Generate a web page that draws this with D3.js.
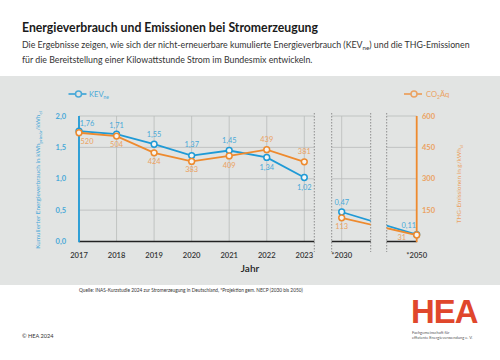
<!DOCTYPE html>
<html><head><meta charset="utf-8">
<script src="https://cdn.jsdelivr.net/npm/d3@7/dist/d3.min.js"></script>
<style>
html,body{margin:0;padding:0;background:#fff;}
svg{display:block;font-family:Lato,"Open Sans",sans-serif;}
</style></head>
<body>
<svg id="c" width="500" height="360"></svg>
<script>
// ---- data ----
const yearLabels = ["2017","2018","2019","2020","2021","2022","2023","*2030","*2050"];
const years = [2017,2018,2019,2020,2021,2022,2023,2030,2050];
const kev = [1.76,1.71,1.55,1.37,1.45,1.34,1.02,0.47,0.11];
const co2 = [520,504,424,383,409,439,381,113,31];
const leftTicks = [0,0.5,1.0,1.5,2.0];
const rightTicks = [150,300,450,600];
const gridYears = [2017,2018,2019,2020,2021,2022,2023,2030];

// label placement (style only)
const kevOff = [[8,-8],[0,-9],[0,-10],[0,-11],[0,-10],[0,10],[0,10],[0,-10],[-8,-9]];
const co2Off = [[8,9],[0,8],[0,9],[0,8],[0,9],[0,-10],[0,-10],[0,9],[-15,2]];

const BLUE="#1f9ad6", ORANGE="#ee8a2e", BLUEL="#4aa9d8", ORANGEL="#eba262", GRID="#b9bbba", PANEL="#e2e4e3";
const svg = d3.select("#c");
const fmt = d3.formatLocale({decimal:",",thousands:".",grouping:[3],currency:["","€"]});
const f2 = fmt.format(".2f"), f1 = fmt.format(".1f");

function fit(sel, w){ const n=sel.node(); const bw=n.getComputedTextLength(); const fs=parseFloat(sel.attr("font-size")); sel.attr("font-size", fs*w/bw); }

// header
const title = svg.append("text").attr("x",22).attr("y",31.5).attr("font-size",12.5).attr("font-weight",700).attr("fill","#1a1a1a")
  .text("Energieverbrauch und Emissionen bei Stromerzeugung");
fit(title,296);
const s1 = svg.append("text").attr("x",22).attr("y",48).attr("font-size",8.5).attr("fill","#333");
s1.append("tspan").text("Die Ergebnisse zeigen, wie sich der nicht-erneuerbare kumulierte Energieverbrauch (KEV");
s1.append("tspan").attr("dy",2).attr("font-size","0.7em").text("ne");
s1.append("tspan").attr("dy",-2).text(") und die THG-Emissionen");
fit(s1,448);
const fs1 = parseFloat(s1.attr("font-size"));
svg.append("text").attr("x",22).attr("y",63).attr("font-size",fs1).attr("fill","#333")
  .text("für die Bereitstellung einer Kilowattstunde Strom im Bundesmix entwickeln.");

// panel
svg.append("rect").attr("x",0).attr("y",76).attr("width",500).attr("height",209).attr("fill",PANEL);

// scales
const x = d3.scaleLinear().domain([2017,2023,2030,2050]).range([79,304.3,341.7,416.7]);
const yL = d3.scaleLinear().domain([0,2]).range([241.5,116]);
const yR = d3.scaleLinear().domain([0,600]).range([241.5,116]);
const segs = [[79,314.3],[331.7,370.7],[386.7,416.7]];

const defs = svg.append("defs");
defs.append("clipPath").attr("id","seg1").append("rect").attr("x",segs[1][0]-5).attr("y",100).attr("width",segs[1][1]-segs[1][0]+5).attr("height",150);
defs.append("clipPath").attr("id","seg2").append("rect").attr("x",segs[2][0]).attr("y",100).attr("width",segs[2][1]-segs[2][0]+5).attr("height",150);

// grid
const g = svg.append("g");
segs.forEach(s=>{
  leftTicks.slice(1).forEach(t=>{
    g.append("line").attr("x1",s[0]).attr("x2",s[1]).attr("y1",yL(t)).attr("y2",yL(t)).attr("stroke",GRID).attr("stroke-width",0.8);
  });
});
gridYears.forEach(yv=>{
  g.append("line").attr("x1",x(yv)).attr("x2",x(yv)).attr("y1",yL(2)).attr("y2",yL(0)).attr("stroke",GRID).attr("stroke-width",0.8);
});
// dotted separators
[segs[0][1],segs[1][0],segs[1][1],segs[2][0]].forEach(px=>{
  g.append("line").attr("x1",px).attr("x2",px).attr("y1",113).attr("y2",252).attr("stroke","#777").attr("stroke-width",0.8).attr("stroke-dasharray","1.5,1.5");
});
// baseline
segs.forEach(s=>{
  g.append("line").attr("x1",s[0]).attr("x2",s[1]).attr("y1",yL(0)).attr("y2",yL(0)).attr("stroke","#222").attr("stroke-width",1.5);
});
// axes lines
g.append("line").attr("x1",x(2017)).attr("x2",x(2017)).attr("y1",yL(2)).attr("y2",yL(0)+0.7).attr("stroke",BLUE).attr("stroke-width",1.8);
g.append("line").attr("x1",x(2050)).attr("x2",x(2050)).attr("y1",yR(600)).attr("y2",yR(0)+0.7).attr("stroke",ORANGE).attr("stroke-width",1.8);

// tick labels
leftTicks.forEach(t=>{
  svg.append("text").attr("x",66).attr("y",yL(t)+2.6).attr("text-anchor","end").attr("font-size",7.5).attr("font-weight",700).attr("fill",BLUEL).text(f1(t));
});
rightTicks.forEach(t=>{
  svg.append("text").attr("x",422).attr("y",yR(t)+2.6).attr("font-size",7.5).attr("font-weight",700).attr("fill",ORANGEL).text(t);
});
yearLabels.forEach((l,i)=>{
  svg.append("text").attr("x",x(years[i])).attr("y",258).attr("text-anchor","middle").attr("font-size",7.6).attr("font-weight",600).attr("fill","#333").text(l);
});
svg.append("text").attr("x",250).attr("y",272).attr("text-anchor","middle").attr("font-size",10).attr("font-weight",600).attr("fill","#222").text("Jahr");

// axis titles
const lt = svg.append("text").attr("transform","translate(40,180) rotate(-90)").attr("text-anchor","middle").attr("font-size",6.4).attr("fill",BLUEL);
lt.append("tspan").text("Kumulierter Energieverbrauch in kWh");
lt.append("tspan").attr("dy",1.5).attr("font-size","0.7em").text("primär");
lt.append("tspan").attr("dy",-1.5).text("/kWh");
lt.append("tspan").attr("dy",1.5).attr("font-size","0.7em").text("el");
const rt = svg.append("text").attr("transform","translate(461,184) rotate(-90)").attr("text-anchor","middle").attr("font-size",6.4).attr("fill",ORANGEL);
rt.append("tspan").text("THG-Emissionen in g/kWh");
rt.append("tspan").attr("dy",1.5).attr("font-size","0.7em").text("el");

// lines: historic part (2017-2023) and projection part (2030-2050, broken axis)
const pts = years.map((yv,i)=>({yr:yv,k:kev[i],c:co2[i]}));
const hist = pts.filter(d=>d.yr<=2023), proj = pts.filter(d=>d.yr>=2030);
const lineK = d3.line().x(d=>x(d.yr)).y(d=>yL(d.k));
const lineC = d3.line().x(d=>x(d.yr)).y(d=>yR(d.c));
function drawSeries(lineGen, color){
  svg.append("path").datum(hist).attr("d",lineGen).attr("fill","none").attr("stroke",color).attr("stroke-width",1.8);
  [1,2].forEach(i=>{
    svg.append("path").datum(proj).attr("d",lineGen).attr("fill","none").attr("stroke",color).attr("stroke-width",1.8).attr("clip-path","url(#seg"+i+")");
  });
}
drawSeries(lineK,BLUE);
svg.selectAll("circle.k").data(pts).join("circle").attr("class","k").attr("cx",d=>x(d.yr)).attr("cy",d=>yL(d.k)).attr("r",2.9).attr("fill","#f4f6f5").attr("stroke",BLUE).attr("stroke-width",1.5);
drawSeries(lineC,ORANGE);
svg.selectAll("circle.c").data(pts).join("circle").attr("class","c").attr("cx",d=>x(d.yr)).attr("cy",d=>yR(d.c)).attr("r",2.9).attr("fill","#f8f4ee").attr("stroke",ORANGE).attr("stroke-width",1.5);

// value labels
pts.forEach((d,i)=>{
  svg.append("text").attr("x",x(d.yr)+kevOff[i][0]).attr("y",yL(d.k)+kevOff[i][1]+2.6).attr("text-anchor","middle").attr("font-size",7.4).attr("fill",BLUEL).text(f2(d.k));
  svg.append("text").attr("x",x(d.yr)+co2Off[i][0]).attr("y",yR(d.c)+co2Off[i][1]+2.6).attr("text-anchor","middle").attr("font-size",7.4).attr("fill",ORANGEL).text(d.c);
});

// legends
function legend(cx, color, lx, parts){
  svg.append("line").attr("x1",cx-10).attr("x2",cx+8).attr("y1",94).attr("y2",94).attr("stroke",color).attr("stroke-width",1.8);
  svg.append("circle").attr("cx",cx).attr("cy",94).attr("r",3).attr("fill",PANEL).attr("stroke",color).attr("stroke-width",1.5);
  const t = svg.append("text").attr("x",lx).attr("y",96.8).attr("font-size",7.6).attr("fill",color);
  parts.forEach(p=>{ const ts=t.append("tspan").text(p[0]); if(p[1]){ts.attr("font-size","0.65em").attr("dy",2);} else {ts.attr("dy",p[2]||0);} });
}
legend(78.5, BLUEL, 89, [["KEV"],["ne",true]]);
legend(414, ORANGEL, 426, [["CO"],["2",true],["Äq",false,-2]]);

// footer
const q = svg.append("text").attr("x",79).attr("y",292).attr("font-size",5).attr("fill","#333")
  .text("Quelle: INAS-Kurzstudie 2024 zur Stromerzeugung in Deutschland, *Projektion gem. NECP (2030 bis 2050)");
fit(q,224);
svg.append("text").attr("x",22).attr("y",338).attr("font-size",5.6).attr("fill","#333").text("© HEA 2024");
const hea = svg.append("text").attr("x",411).attr("y",322.5).attr("font-size",29).attr("font-weight",700).attr("font-family","'Liberation Sans',Arial,sans-serif").attr("fill","#e0472c").attr("letter-spacing",-1).text("HEA");
fit(hea,66);
svg.append("text").attr("x",412).attr("y",333.5).attr("font-size",4).attr("fill","#555").text("Fachgemeinschaft für");
svg.append("text").attr("x",412).attr("y",338.5).attr("font-size",4).attr("fill","#555").text("effiziente Energieverwendung e. V.");
</script>
</body></html>
